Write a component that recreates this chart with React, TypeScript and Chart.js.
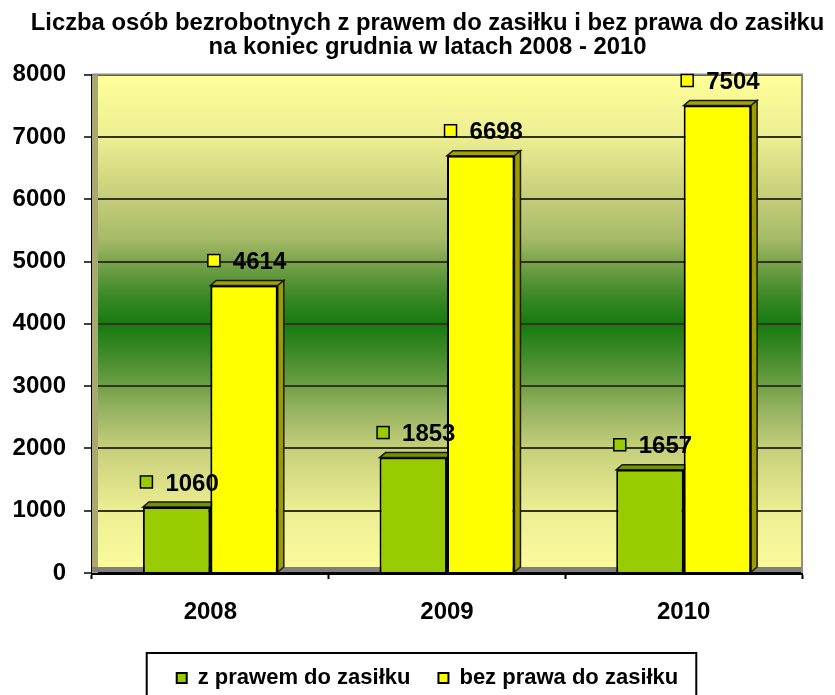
import React, { useEffect, useRef } from "react";
import { Chart, registerables } from "chart.js";

Chart.register(...registerables);

const categories = ["2008", "2009", "2010"];
const withBenefit = [1060, 1853, 1657];
const withoutBenefit = [4614, 6698, 7504];
const seriesLabels = ["z prawem do zasiłku", "bez prawa do zasiłku"];
const titleLines = [
  "Liczba osób bezrobotnych z prawem do zasiłku i bez prawa do zasiłku",
  "na koniec grudnia w latach 2008 - 2010",
];
const yMin = 0;
const yMax = 8000;
const yStep = 1000;

const FONT = '"Liberation Sans", Arial, Helvetica, sans-serif';
const DX = 6;
const DY = 5;
const frontColors = ["#99CC00", "#FFFF00"];
const topColors = ["#6E9400", "#A3A300"];
const sideColors = ["#6E9400", "#9C9C00"];

const decor = {
  id: "decor",
  beforeDraw(chart: any) {
    const { ctx, chartArea: a } = chart;
    const g = ctx.createLinearGradient(0, a.top, 0, a.bottom);
    g.addColorStop(0, "#FFFF99");
    g.addColorStop(0.125, "#EDEE92");
    g.addColorStop(0.25, "#C4CD79");
    g.addColorStop(0.33, "#A6BA66");
    g.addColorStop(0.375, "#7AA44C");
    g.addColorStop(0.44, "#3F8A2A");
    g.addColorStop(0.5, "#167A0F");
    g.addColorStop(0.56, "#3F8A2A");
    g.addColorStop(0.625, "#6FA045");
    g.addColorStop(0.67, "#94B260");
    g.addColorStop(0.75, "#C6CF7A");
    g.addColorStop(0.875, "#EDEE93");
    g.addColorStop(1, "#FCFC9D");
    ctx.save();
    ctx.fillStyle = g;
    ctx.fillRect(a.left, a.top, a.right - a.left, a.bottom - a.top);
    ctx.restore();
  },
  beforeDatasetsDraw(chart: any) {
    const { ctx, chartArea: a } = chart;
    ctx.save();
    // left wall
    ctx.fillStyle = "#A9A874";
    ctx.fillRect(a.left, a.top, DX, a.bottom - a.top);
    // floor
    ctx.fillStyle = "#7F7F7F";
    ctx.fillRect(a.left, a.bottom - DY - 1, a.right - a.left, DY);
    // top / right frame
    ctx.strokeStyle = "#8C8C8C";
    ctx.lineWidth = 2;
    ctx.beginPath();
    ctx.moveTo(a.left, a.top);
    ctx.lineTo(a.right, a.top);
    ctx.lineTo(a.right, a.bottom);
    ctx.stroke();
    // 3D faces of bars
    chart.data.datasets.forEach((ds: any, i: number) => {
      const meta = chart.getDatasetMeta(i);
      meta.data.forEach((bar: any) => {
        const { x, y, base, width } = bar.getProps(["x", "y", "base", "width"], true);
        const l = x - width / 2;
        const r = x + width / 2;
        ctx.lineWidth = 1.5;
        ctx.strokeStyle = "#1a1a00";
        ctx.fillStyle = topColors[i];
        ctx.beginPath();
        ctx.moveTo(l, y);
        ctx.lineTo(l + DX, y - DY);
        ctx.lineTo(r + DX, y - DY);
        ctx.lineTo(r, y);
        ctx.closePath();
        ctx.fill();
        ctx.stroke();
        ctx.fillStyle = sideColors[i];
        ctx.beginPath();
        ctx.moveTo(r, y);
        ctx.lineTo(r + DX, y - DY);
        ctx.lineTo(r + DX, base - DY);
        ctx.lineTo(r, base);
        ctx.closePath();
        ctx.fill();
        ctx.stroke();
      });
    });
    ctx.restore();
  },
  afterDatasetsDraw(chart: any) {
    const { ctx } = chart;
    ctx.save();
    ctx.font = `bold 24px ${FONT}`;
    ctx.textBaseline = "middle";
    ctx.textAlign = "left";
    chart.data.datasets.forEach((ds: any, i: number) => {
      const meta = chart.getDatasetMeta(i);
      meta.data.forEach((bar: any, j: number) => {
        const { x, y } = bar.getProps(["x", "y"], true);
        const text = String(ds.data[j]);
        const tw = ctx.measureText(text).width;
        const sq = 12;
        const gap = 13;
        const total = sq + gap + tw;
        const left = x + DX / 2 - total / 2;
        const cy = y - 24;
        ctx.fillStyle = frontColors[i];
        ctx.fillRect(left, cy - sq / 2 - 1, sq, sq);
        ctx.lineWidth = 1.5;
        ctx.strokeStyle = "#000";
        ctx.strokeRect(left, cy - sq / 2 - 1, sq, sq);
        ctx.fillStyle = "#000";
        ctx.fillText(text, left + sq + gap, cy + 1);
      });
    });
    ctx.restore();
  },
  afterDraw(chart: any) {
    const { ctx } = chart;
    const lg = chart.legend;
    if (!lg || !lg.legendHitBoxes || !lg.legendHitBoxes.length) return;
    const hb = lg.legendHitBoxes;
    let l = Infinity;
    let r = -Infinity;
    hb.forEach((h: any) => {
      l = Math.min(l, h.left);
      r = Math.max(r, h.left + h.width);
    });
    ctx.save();
    ctx.strokeStyle = "#000";
    ctx.lineWidth = 2;
    ctx.strokeRect(l - 30, 653, r - l + 48, 60);
    ctx.restore();
  },
};

export default function App() {
  const ref = useRef<HTMLCanvasElement | null>(null);
  useEffect(() => {
    if (!ref.current) return;
    const chart = new Chart(ref.current, {
      type: "bar",
      data: {
        labels: categories,
        datasets: [
          {
            label: seriesLabels[0],
            data: withBenefit,
            backgroundColor: frontColors[0],
            borderColor: "#000",
            borderWidth: 2,
            categoryPercentage: 0.57,
            barPercentage: 1,
          },
          {
            label: seriesLabels[1],
            data: withoutBenefit,
            backgroundColor: frontColors[1],
            borderColor: "#000",
            borderWidth: 2,
            categoryPercentage: 0.57,
            barPercentage: 1,
          },
        ],
      },
      options: {
        responsive: false,
        animation: false,
        events: [],
        layout: { padding: { left: 8, right: -12, top: 0, bottom: -4 } },
        plugins: {
          title: {
            display: true,
            text: titleLines,
            color: "#000",
            font: { family: FONT, size: 23.8, weight: "bold", lineHeight: 1.0 },
            padding: { top: 12, bottom: 15 },
          },
          legend: {
            display: true,
            position: "bottom",
            labels: {
              color: "#000",
              font: { family: FONT, size: 22, weight: "bold" },
              boxWidth: 10,
              boxHeight: 10,
              padding: 28,
            },
          },
          tooltip: { enabled: false },
        },
        scales: {
          x: {
            afterFit: (s: any) => {
              s.height = 66;
            },
            grid: {
              display: true,
              drawOnChartArea: false,
              drawTicks: true,
              tickLength: 6,
              tickColor: "#000",
              tickWidth: 2,
              offset: true,
            },
            border: { display: true, color: "#000", width: 3 },
            ticks: {
              color: "#000",
              padding: 19,
              font: { family: FONT, size: 24, weight: "bold" },
            },
          },
          y: {
            min: yMin,
            max: yMax,
            afterFit: (s: any) => {
              s.width = 84;
            },
            grid: {
              color: "#333322",
              lineWidth: 2,
              tickColor: "#000",
              tickLength: 8,
              tickWidth: 1.5,
            },
            border: { display: true, color: "#000", width: 2 },
            ticks: {
              stepSize: yStep,
              color: "#000",
              padding: 18,
              font: { family: FONT, size: 24, weight: "bold" },
              callback: (v: any) => String(v),
            },
          },
          spacer: {
            type: "linear",
            position: "right",
            display: true,
            afterFit: (s: any) => {
              s.width = 45;
            },
            grid: { display: false, drawTicks: false },
            border: { display: false },
            ticks: { display: false },
          },
        },
      },
      plugins: [decor],
    });
    return () => chart.destroy();
  }, []);
  return (
    <div style={{ position: "fixed", left: 0, top: 0, width: 835, height: 695, background: "#fff" }}>
      <canvas ref={ref} width={835} height={695} style={{ display: "block" }} />
    </div>
  );
}
